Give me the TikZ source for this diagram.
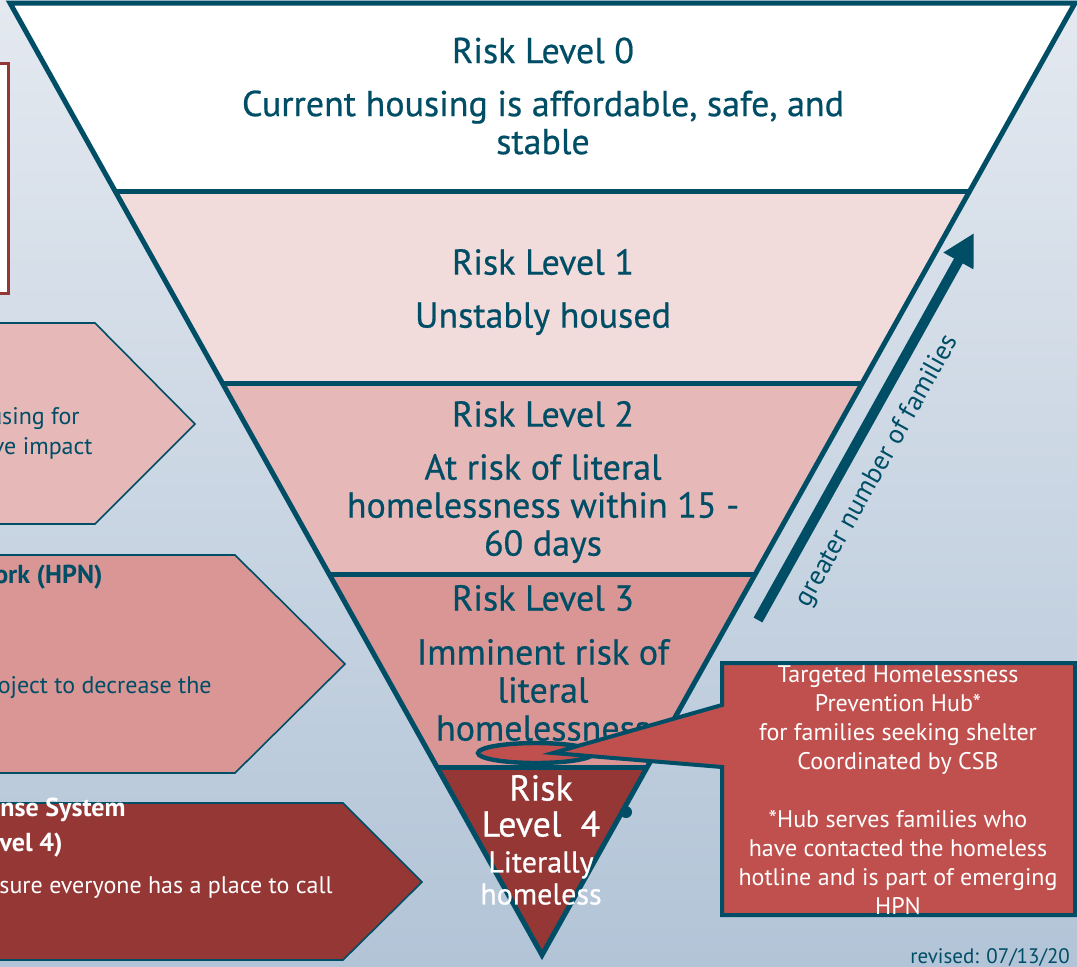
\documentclass[tikz,border=0pt]{standalone}
\usepackage{fontspec}
\setmainfont{PT Sans}
\newfontfamily\levfont{PT Sans}[FakeBold=0.6]
\usepackage{tikz}
\usetikzlibrary{calc,arrows.meta}

\definecolor{hpnteal}{RGB}{0,77,102}
\definecolor{level1}{RGB}{242,220,219}
\definecolor{level2}{RGB}{230,185,184}
\definecolor{level3}{RGB}{217,150,148}
\definecolor{level4}{RGB}{149,55,53}
\definecolor{hubred}{RGB}{192,80,77}
\definecolor{bgtop}{RGB}{228,233,240}
\definecolor{bgbot}{RGB}{178,196,215}

\tikzset{
  funnel/.style={ % outline of the risk funnel
    draw=hpnteal, line width=2.5pt
  },
  levtext/.style={ % text inside one band
    text=hpnteal, align=center, inner sep=0pt,
    font=\levfont\fontsize{18}{19}\selectfont
  },
  chevron/.style={ % side panel shaped as an arrow
    draw=hpnteal, line width=0.8pt
  },
  chevtext/.style={
    text=hpnteal, anchor=east, inner sep=0pt,
    font=\fontsize{12}{14.5}\selectfont
  },
  hubtext/.style={
    text=white, align=center, inner sep=0pt,
    font=\fontsize{12}{14.5}\selectfont
  },
  growth/.style={
    hpnteal, line width=5pt, -{Triangle[length=16pt,width=16pt]}
  }
}

\begin{document}
\begin{tikzpicture}[x=0.5pt, y=-0.5pt]
    \useasboundingbox (0,0) rectangle (1077,966);
    \clip (0,0) rectangle (1077,966);
    \shade[top color=bgtop, bottom color=bgbot] (0,0) rectangle (1077,966);

    % side panels, cut off at the left edge
    \draw[level4, line width=1.5pt, fill=white] (-20,63) rectangle (8,293);
    \draw[chevron, fill=level2] (-20,323) -- (95,323) -- (195,424) -- (95,524) -- (-20,524) -- cycle;
    \draw[chevron, fill=level3] (-20,555) -- (235,555) -- (345,664) -- (235,773) -- (-20,773) -- cycle;
    \draw[chevron, fill=level4] (-20,803) -- (343,803) -- (422,882) -- (343,960) -- (-20,960) -- cycle;

    \node[chevtext] (c1a) at (80,419) {using for};
    \node[chevtext] (c1b) at (93,448) {ve impact};
    \node[chevtext, font=\fontsize{13}{15}\bfseries] (c2a) at (103,577) {ork (HPN)};
    \node[chevtext] (c2b) at (212,688) {oject to decrease the};
    \node[chevtext, text=white, font=\fontsize{13}{15}\bfseries] (c3a) at (126,810) {nse System};
    \node[chevtext, text=white, font=\fontsize{13}{15}\bfseries] (c3b) at (63,845) {vel 4)};
    \node[chevtext, text=white] (c3c) at (333,888) {sure everyone has a place to call};

    % the funnel and its bands
    \coordinate (tl) at (10,3);
    \coordinate (tr) at (1075,3);
    \coordinate (apex) at (542,955);
    \foreach \t [count=\i] in {0.1985,0.3992,0.6008,0.8025} {
      \coordinate (l\i) at ($(tl)!\t!(apex)$);
      \coordinate (r\i) at ($(tr)!\t!(apex)$);
    }
    \fill[white] (tl) -- (tr) -- (r1) -- (l1) -- cycle;
    \fill[level1] (l1) -- (r1) -- (r2) -- (l2) -- cycle;
    \fill[level2] (l2) -- (r2) -- (r3) -- (l3) -- cycle;
    \fill[level3] (l3) -- (r3) -- (r4) -- (l4) -- cycle;
    \fill[level4] (l4) -- (r4) -- (apex) -- cycle;
    \draw[funnel] (tl) -- (tr) -- (apex) -- cycle;
    \foreach \i in {1,...,4} \draw[funnel] (l\i) -- (r\i);
    \fill[hpnteal] (626,812) circle (3pt);

    \node[levtext] (lev0) at (543,96) {Risk Level 0\\[7.5pt]Current housing is affordable, safe, and\\stable};
    \node[levtext] (lev1) at (543,292) {Risk Level 1\\[7.5pt]Unstably housed};
    \node[levtext] (lev2) at (543,482) {Risk Level 2\\[7.5pt]At risk of literal\\homelessness within 15 -\\60 days};
    \node[levtext] (lev3) at (543,663) {Risk Level 3\\[8pt]Imminent risk of\\literal\\homelessness};
    \node[levtext, text=white, font=\levfont\fontsize{18}{18}\selectfont] (lev4) at (541,806) {Risk\\Level\ \ 4};
    \node[levtext, text=white, font=\levfont\fontsize{15}{16}\selectfont] (lev4b) at (541,878) {Literally\\homeless};

    % callout for the prevention hub
    \draw[hpnteal, line width=2.2pt, fill=hubred] (536,753) ellipse [x radius=29pt, y radius=5pt];
    \coordinate (tip) at (553,753);
    \draw[hpnteal, line width=2pt, fill=hubred] (722,663) -- (1075,663) -- (1075,915) -- (722,915)
      -- (722,767) -- (tip) -- (722,705) -- cycle;
    \node[hubtext] (hub) at (898,790) {Targeted Homelessness\\Prevention Hub*\\for families seeking shelter\\Coordinated by CSB\\[14.5pt]*Hub serves families who\\have contacted the homeless\\hotline and is part of emerging\\HPN};

    % more families further up
    \coordinate (gstart) at (758,620);
    \coordinate (gend) at (974,233);
    \draw[growth] (gstart) -- node[sloped, pos=0.425, below=4pt, text=hpnteal, font=\fontsize{13.5}{15}\selectfont] (glabel) {greater number of families} (gend);

    \node[anchor=west, text=hpnteal, inner sep=0pt, font=\fontsize{10.5}{12}\selectfont] (rev) at (910,957) {revised: 07/13/20};
\end{tikzpicture}
\end{document}
